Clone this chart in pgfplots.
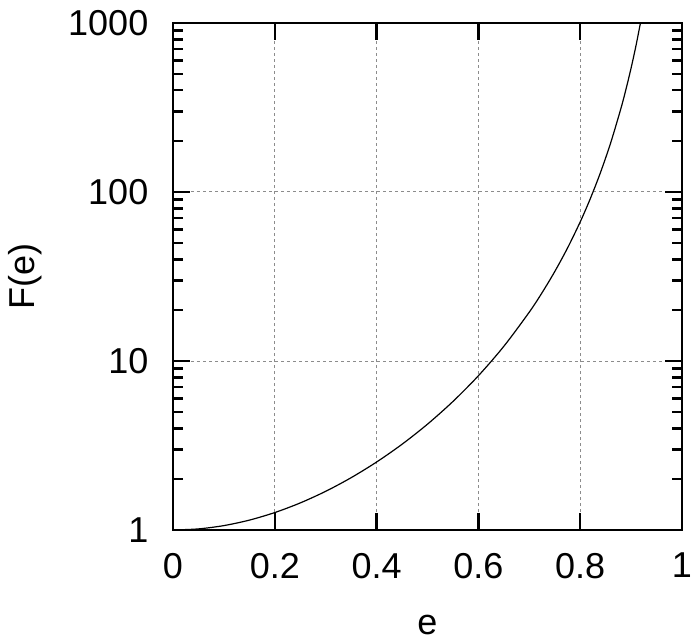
\documentclass[border=0pt]{standalone}
\usepackage{pgfplots}
\pgfplotsset{compat=1.18}
\usepackage{fontspec}
\setmainfont{Liberation Sans}
\newcommand{\bigfont}{\fontsize{36}{43}\selectfont}
\begin{document}
\begin{tikzpicture}
\useasboundingbox (-173pt,-113pt) rectangle (519pt,530pt);
\begin{axis}[
  at={(0,0)}, anchor=south west,
  scale only axis, width=509pt, height=507pt,
  xmin=0, xmax=1, ymin=1, ymax=1000, ymode=log,
  xtick={0,0.2,0.4,0.6,0.8,1},
  xticklabels={0,0.2,0.4,0.6,0.8,1},
  ytick={1,10,100,1000},
  yticklabels={1,10,100,1000},
  minor x tick num=0,
  tick align=inside,
  xtick pos=both, ytick pos=both,
  axis line style={line width=2.5pt},
  every tick/.style={black, line width=2.5pt},
  major tick length=17pt, minor tick length=10pt,
  xmajorgrids, ymajorgrids,
  major grid style={gray!90, line width=1pt, dash pattern=on 3pt off 3pt},
  tick label style={font=\bigfont},
  xticklabel style={inner sep=0pt, anchor=north, yshift=-23pt},
  yticklabel style={inner sep=0pt, anchor=east, xshift=-24.5pt},
  label style={font=\bigfont},
  xlabel={e},
  ylabel={F(e)},
  xlabel style={at={(axis description cs:0.5,0)}, anchor=center, inner sep=0pt, yshift=-95pt},
  ylabel style={at={(axis description cs:0,0.5)}, anchor=center, inner sep=0pt, rotate=0, yshift=148pt},
  clip=true,
]
\addplot[black, line width=1.2pt, smooth] coordinates {
(0,1) (0.05,1.0152) (0.1,1.0620) (0.15,1.1441) (0.2,1.2685) (0.25,1.4462)
(0.3,1.6944) (0.35,2.0400) (0.4,2.5249) (0.45,3.2170) (0.5,4.2299)
(0.55,5.7623) (0.6,8.1823) (0.65,12.222) (0.7,19.472) (0.725,25.342)
(0.75,33.829) (0.775,46.56) (0.8,66.54) (0.82,91.57) (0.84,130.8)
(0.86,196.0) (0.88,312.4) (0.89,406.3) (0.9,541.9) (0.91,744.8) (0.92,1062.6)
};
\end{axis}
\end{tikzpicture}
\end{document}
